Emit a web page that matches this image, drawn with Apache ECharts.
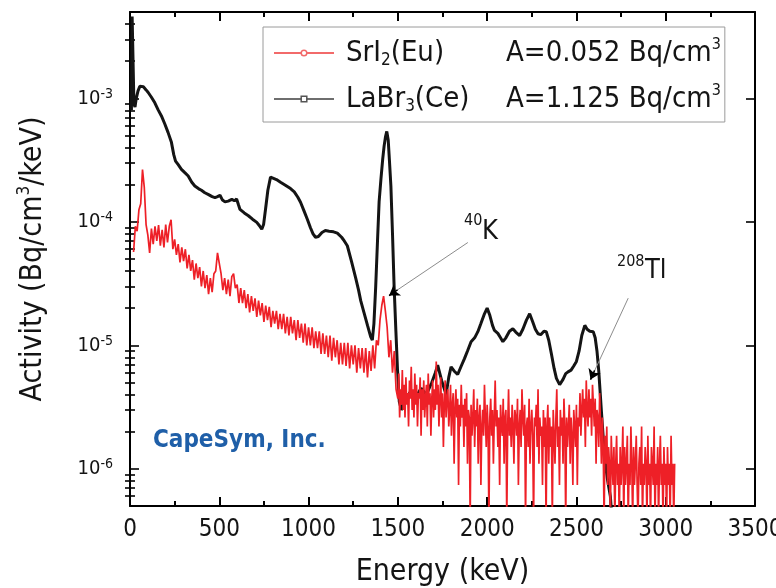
<!DOCTYPE html>
<html>
<head>
<meta charset="utf-8">
<script src="https://cdn.jsdelivr.net/npm/echarts@6/dist/echarts.min.js"></script>
<style>
html,body{margin:0;padding:0;background:#ffffff;}
#chart{width:776px;height:588px;}
</style>
</head>
<body>
<div id="chart"></div>
<script>
// ---------------- DATA ----------------
const energyRange = [0, 3500];
const energyStep = 500;
const decadeTicks = [1e-6, 1e-5, 1e-4, 1e-3];
const minorTicks = [6e-7, 7e-7, 8e-7, 9e-7,
  2e-6, 3e-6, 4e-6, 5e-6, 6e-6, 7e-6, 8e-6, 9e-6,
  2e-5, 3e-5, 4e-5, 5e-5, 6e-5, 7e-5, 8e-5, 9e-5,
  2e-4, 3e-4, 4e-4, 5e-4, 6e-4, 7e-4, 8e-4, 9e-4,
  2e-3, 3e-3, 4e-3];
const activityRange = [5e-7, 5e-3];

const legendNames = ['SrI2(Eu)', 'LaBr3(Ce)'];
const legendBase = ['SrI', 'LaBr'];
const legendSub = ['2', '3'];
const legendTail = ['(Eu)', '(Ce)'];
const legendActivity = ['A=0.052 Bq/cm', 'A=1.125 Bq/cm'];

// SrI2(Eu) spectrum below 1500 keV, energies (keV)
const srI2LowEnergy = [
  20,30,40,50,60,70,80,90,100,110,
  120,130,140,150,160,170,180,190,200,210,
  220,230,240,250,260,270,280,290,300,310,
  320,330,340,350,360,370,380,390,400,410,
  420,430,440,450,460,470,480,490,500,510,
  520,530,540,550,560,570,580,590,600,610,
  620,630,640,650,660,670,680,690,700,710,
  720,730,740,750,760,770,780,790,800,810,
  820,830,840,850,860,870,880,890,900,910,
  920,930,940,950,960,970,980,990,1000,1010,
  1020,1030,1040,1050,1060,1070,1080,1090,1100,1110,
  1120,1130,1140,1150,1160,1170,1180,1190,1200,1210,
  1220,1230,1240,1250,1260,1270,1280,1290,1300,1310,
  1320,1330,1340,1350,1360,1370,1380,1390,1400,1410,
  1420,1430,1440,1450,1460,1470,1480,1490
];
// activity in micro-Bq/cm3/keV (x1e-6)
const srI2LowActivity_u = [
  57,92,84,125,140,265,190,95,78,56,
  88,66,92,70,94,64,86,62,95,68,
  92,104,60,72,54,66,47,62,48,60,
  42,54,40,49,34,46,35,43,30,40,
  29,37,26,35,27,38,40,56,46,38,
  28,35,26,34,25,36,38,29,31,22,
  29,22,28,20,26,18.5,25,19,24,17,
  23,17.5,22,15.5,21,16,20.5,14,19,15,
  19,13.5,18,13.5,18,12.5,17,12,17,12.5,
  16,11,16,11.5,15,10.5,15,10,14,10,
  14,9.5,13,9.5,13,8.5,12.5,8.5,12,8,
  12,7.5,11.5,8,11,7,10.5,7,10.5,6.8,
  10.5,6.5,10,7,10,6,9.5,6.5,9.5,6,
  9.5,5.5,9,6.2,10,6.5,11,10,16,21,
  25,19,14,8,11,6,9,4.4
];

// SrI2(Eu) spectrum from 1500 keV, energies (keV)
const srI2HighEnergy = [
  1500,1505,1510,1515,1520,1525,1530,1535,1540,1545,
  1550,1555,1560,1565,1570,1575,1580,1585,1590,1595,
  1600,1605,1610,1615,1620,1625,1630,1635,1640,1645,
  1650,1655,1660,1665,1670,1675,1680,1685,1690,1695,
  1700,1705,1710,1715,1720,1725,1730,1735,1740,1745,
  1750,1755,1760,1765,1770,1775,1780,1785,1790,1795,
  1800,1805,1810,1815,1820,1825,1830,1835,1840,1845,
  1850,1855,1860,1865,1870,1875,1880,1885,1890,1895,
  1900,1905,1910,1915,1920,1925,1930,1935,1940,1945,
  1950,1955,1960,1965,1970,1975,1980,1985,1990,1995,
  2000,2005,2010,2015,2020,2025,2030,2035,2040,2045,
  2050,2055,2060,2065,2070,2075,2080,2085,2090,2095,
  2100,2105,2110,2115,2120,2125,2130,2135,2140,2145,
  2150,2155,2160,2165,2170,2175,2180,2185,2190,2195,
  2200,2205,2210,2215,2220,2225,2230,2235,2240,2245,
  2250,2255,2260,2265,2270,2275,2280,2285,2290,2295,
  2300,2305,2310,2315,2320,2325,2330,2335,2340,2345,
  2350,2355,2360,2365,2370,2375,2380,2385,2390,2395,
  2400,2405,2410,2415,2420,2425,2430,2435,2440,2445,
  2450,2455,2460,2465,2470,2475,2480,2485,2490,2495,
  2500,2505,2510,2515,2520,2525,2530,2535,2540,2545,
  2550,2555,2560,2565,2570,2575,2580,2585,2590,2595,
  2600,2605,2610,2615,2620,2625,2630,2635,2640,2645,
  2650,2655,2660,2665,2670,2675,2680,2685,2690,2695,
  2700,2705,2710,2715,2720,2725,2730,2735,2740,2745,
  2750,2755,2760,2765,2770,2775,2780,2785,2790,2795,
  2800,2805,2810,2815,2820,2825,2830,2835,2840,2845,
  2850,2855,2860,2865,2870,2875,2880,2885,2890,2895,
  2900,2905,2910,2915,2920,2925,2930,2935,2940,2945,
  2950,2955,2960,2965,2970,2975,2980,2985,2990,2995,
  3000,3005,3010,3015,3020,3025,3030,3035,3040,3045,
  3050
];
// activity in micro-Bq/cm3/keV (x1e-6)
const srI2HighActivity_u = [
  3.7,5.9,2.6,4.4,3.3,6.3,3.0,4.8,2.6,5.5,
  3.3,4.1,2.2,5.2,3.7,6.7,3.0,4.4,2.6,5.9,
  3.3,4.8,2.2,4.1,3.7,5.5,1.85,4.4,3.0,5.2,
  2.6,3.7,4.8,2.2,5.9,3.3,4.1,1.85,3.7,5.2,
  2.6,4.4,3.0,7.4,3.3,4.8,2.2,3.7,5.5,2.6,
  4.1,1.5,3.3,5.2,2.6,3.7,4.4,2.2,3.0,4.8,
  1.85,3.3,4.1,1.1,3.0,4.4,2.6,3.7,0.74,3.3,
  2.2,4.8,2.6,3.3,1.5,3.7,2.2,4.1,1.1,3.0,
  2.6,0.37,3.3,1.85,2.6,4.4,1.5,3.0,2.2,3.7,
  1.1,2.6,3.3,0.74,2.2,3.0,1.85,4.8,2.6,1.5,
  3.3,2.2,0.37,2.6,3.7,1.85,3.0,1.1,2.6,5.2,
  2.2,3.0,1.5,2.6,0.74,3.3,2.2,1.85,3.7,1.1,
  2.6,3.0,0.37,2.2,4.4,1.85,2.6,1.5,3.3,2.2,
  1.1,3.0,2.6,1.85,3.7,0.74,2.2,3.0,1.5,4.4,
  2.6,1.85,3.3,0.37,2.2,2.6,1.5,3.7,1.1,2.2,
  3.0,1.85,0.37,2.6,2.2,3.3,1.5,4.4,1.1,2.6,
  1.85,2.2,0.74,3.0,1.5,2.6,0.37,2.2,3.3,1.1,
  2.6,1.5,2.2,0.37,3.0,1.85,1.1,2.6,4.4,1.5,
  2.2,0.74,3.0,1.85,2.6,1.1,3.7,2.2,0.37,2.6,
  1.5,2.2,3.3,1.1,2.6,1.85,0.74,3.0,2.2,1.5,
  3.3,0.74,2.6,2.2,4.1,1.85,3.0,4.4,2.6,3.7,
  1.5,5.2,3.0,2.2,4.4,2.6,3.7,1.85,4.8,3.3,
  2.2,3.7,1.1,3.0,2.6,1.5,4.1,2.2,1.1,2.6,
  1.5,0.37,1.85,1.1,2.2,0.74,1.5,1.1,0.37,1.85,
  1.1,0.74,1.5,0.37,1.1,1.85,0.74,1.1,0.37,1.5,
  0.74,1.1,2.2,0.37,1.5,0.74,1.1,1.85,0.37,1.1,
  0.74,2.2,1.1,0.37,1.5,0.74,1.1,1.85,0.74,0.37,
  1.1,1.5,0.74,2.2,0.37,1.1,0.74,1.5,1.1,0.37,
  1.85,0.74,1.1,0.37,1.5,1.1,0.74,2.2,0.37,1.1,
  0.74,1.5,0.37,1.1,1.85,0.74,1.1,0.37,1.5,0.74,
  1.1,0.37,1.5,0.74,1.1,0.37,1.85,0.74,1.1,0.37,
  1.1
];

// LaBr3(Ce) spectrum
const laBr3Energy = [
  8,12,18,22,28,35,45,55,64,75,
  90,101,120,139,157,176,195,213,232,245,
  255,270,288,307,326,345,363,385,400,419,
  440,460,476,490,504,518,532,550,570,585,
  597,607,616,640,663,686,710,725,738,748,
  760,772,787,797,820,843,870,899,920,940,
  955,975,993,1010,1025,1039,1055,1075,1094,1115,
  1140,1161,1185,1200,1217,1240,1264,1280,1292,1310,
  1330,1348,1357,1366,1376,1386,1395,1405,1415,1423,
  1431,1438,1446,1453,1461,1470,1479,1489,1498,1508,
  1520,1540,1570,1600,1630,1660,1690,1710,1723,1745,
  1770,1785,1798,1815,1835,1855,1873,1890,1910,1930,
  1948,1965,1985,2000,2015,2030,2041,2060,2075,2088,
  2105,2125,2144,2160,2182,2200,2220,2238,2255,2270,
  2285,2300,2318,2331,2345,2360,2375,2388,2406,2425,
  2440,2453,2470,2485,2500,2515,2530,2547,2560,2575,
  2594,2605,2615,2625,2640,2650,2660,2675,2690,2705
];
const laBr3Activity = [
  8e-4,4.6e-3,4.6e-3,9e-4,8.5e-4,1.0e-3,1.15e-3,1.25e-3,1.28e-3,1.24e-3,
  1.17e-3,1.12e-3,1.02e-3,9.2e-4,8.1e-4,7.2e-4,6.2e-4,5.3e-4,4.4e-4,3.5e-4,
  3.1e-4,2.9e-4,2.66e-4,2.5e-4,2.35e-4,2.1e-4,1.95e-4,1.85e-4,1.8e-4,1.72e-4,
  1.66e-4,1.6e-4,1.57e-4,1.6e-4,1.64e-4,1.5e-4,1.45e-4,1.47e-4,1.52e-4,1.48e-4,
  1.53e-4,1.38e-4,1.26e-4,1.18e-4,1.12e-4,1.05e-4,9.9e-5,9.3e-5,8.7e-5,9.5e-5,
  1.3e-4,1.8e-4,2.3e-4,2.35e-4,2.2e-4,2.09e-4,1.98e-4,1.86e-4,1.75e-4,1.58e-4,
  1.44e-4,1.22e-4,1.05e-4,9.0e-5,8.0e-5,7.5e-5,7.6e-5,8.2e-5,8.5e-5,8.4e-5,
  8.3e-5,8.1e-5,7.5e-5,7.0e-5,6.4e-5,4.8e-5,3.5e-5,2.8e-5,2.3e-5,1.85e-5,
  1.45e-5,1.17e-5,1.1e-5,1.5e-5,3.0e-5,7e-5,1.45e-4,2.2e-4,3.2e-4,4.1e-4,
  4.9e-4,5.4e-4,4.6e-4,3.1e-4,1.95e-4,8e-5,3.0e-5,1.3e-5,6.4e-6,3.5e-6,
  3.0e-6,3.6e-6,4.2e-6,3.8e-6,4.5e-6,4.0e-6,5.0e-6,6.0e-6,6.9e-6,5.2e-6,
  4.0e-6,5.5e-6,6.7e-6,6.2e-6,5.8e-6,6.8e-6,7.8e-6,9.0e-6,1.07e-5,1.15e-5,
  1.29e-5,1.5e-5,1.8e-5,2.0e-5,1.75e-5,1.45e-5,1.32e-5,1.25e-5,1.15e-5,1.07e-5,
  1.15e-5,1.3e-5,1.36e-5,1.28e-5,1.2e-5,1.35e-5,1.6e-5,1.8e-5,1.55e-5,1.35e-5,
  1.24e-5,1.22e-5,1.3e-5,1.29e-5,1.1e-5,8.5e-6,6.5e-6,5.4e-6,4.8e-6,5.3e-6,
  5.9e-6,6.1e-6,6.3e-6,6.8e-6,7.4e-6,9.0e-6,1.2e-5,1.45e-5,1.35e-5,1.3e-5,
  1.29e-5,1.15e-5,9e-6,6.2e-6,2.9e-6,1.8e-6,1.15e-6,8e-7,6e-7,3e-7
];

// Annotation arrows (data coordinates: [keV, activity])
const k40ArrowFrom = [1892, 6.8e-5];
const k40ArrowHead = [1498, 2.81e-5];
const k40ArrowTip = [1451, 2.53e-5];
const tl208ArrowFrom = [2790, 2.41e-5];
const tl208ArrowHead = [2602, 6.27e-6];
const tl208ArrowTip = [2579, 5.28e-6];

// ---------------- FONTS ----------------
const cv = document.createElement('canvas').getContext('2d');
function hasFont(name) {
  const s = 'mmmmmwwwwwliIl0123456789ABCabc';
  cv.font = '40px monospace';
  const a = cv.measureText(s).width;
  cv.font = '40px "' + name + '", monospace';
  return cv.measureText(s).width !== a;
}
const COND = hasFont('DejaVu Sans Condensed');
const FONT = COND ? 'DejaVu Sans Condensed' : 'DejaVu Sans';
const K = COND ? 1 : 0.9;
const fs = v => Math.round(v * K * 10) / 10;
function tw(text, size, weight) {
  cv.font = (weight || 'normal') + ' ' + size + 'px "' + FONT + '"';
  return cv.measureText(text).width;
}

const TXT = '#141414';
const RED = '#ee2027';
const BLK = '#141414';

const LF = fs(29), LSUB = fs(17), LSUP = fs(16);
const NAME_COL = 160;
const pads = legendNames.map((n, i) =>
  Math.max(4, NAME_COL - tw(legendBase[i], LF) - tw(legendSub[i], LSUB) - tw(legendTail[i], LF)));

// ---------------- SERIES DATA ----------------
const srI2Data = srI2LowEnergy.map((e, i) => [e, srI2LowActivity_u[i] * 1e-6])
  .concat(srI2HighEnergy.map((e, i) => [e, srI2HighActivity_u[i] * 1e-6]));
const laBr3Data = laBr3Energy.map((e, i) => [e, laBr3Activity[i]]);

const chart = echarts.init(document.getElementById('chart'), null, { renderer: 'canvas' });

const frameLine = { show: true, onZero: false, lineStyle: { color: '#000', width: 2 } };
const noLine = { show: false };
const tickStyle = { color: '#000', width: 1.6 };
const stripTickStyle = { color: '#000', width: 2 };
const PLOT = { left: 130, right: 21, top: 12, bottom: 82 };

function yAxisDef(position, showLine, ticks, len, extra) {
  return Object.assign({
    type: 'log', logBase: 10, min: activityRange[0], max: activityRange[1],
    position: position, gridIndex: 0,
    axisLine: showLine ? frameLine : noLine,
    axisTick: { show: true, inside: true, length: len, customValues: ticks, lineStyle: tickStyle },
    axisLabel: { show: false },
    splitLine: { show: false }, minorSplitLine: { show: false }
  }, extra || {});
}
// thin strips along the top and bottom frame whose split lines act as energy ticks
function tickStripX(gridIndex, major) {
  return {
    type: 'value', gridIndex: gridIndex, min: energyRange[0], max: energyRange[1], interval: energyStep,
    axisLine: noLine, axisTick: { show: false }, axisLabel: { show: false },
    minorTick: { show: false, splitNumber: 2 },
    splitLine: { show: major, lineStyle: stripTickStyle },
    minorSplitLine: { show: !major, lineStyle: stripTickStyle }
  };
}
function tickStripY(gridIndex) {
  return { type: 'value', gridIndex: gridIndex, show: false, axisLine: noLine, axisTick: { show: false },
    axisLabel: { show: false }, splitLine: { show: false } };
}

const option = {
  animation: false,
  backgroundColor: '#ffffff',
  grid: [
    { left: PLOT.left, right: PLOT.right, top: PLOT.top, bottom: PLOT.bottom, containLabel: false, outerBoundsMode: 'none' },
    { left: PLOT.left, right: PLOT.right, bottom: PLOT.bottom, height: 9, containLabel: false, outerBoundsMode: 'none' },
    { left: PLOT.left, right: PLOT.right, bottom: PLOT.bottom, height: 5, containLabel: false, outerBoundsMode: 'none' },
    { left: PLOT.left, right: PLOT.right, top: PLOT.top, height: 9, containLabel: false, outerBoundsMode: 'none' },
    { left: PLOT.left, right: PLOT.right, top: PLOT.top, height: 5, containLabel: false, outerBoundsMode: 'none' }
  ],
  legend: {
    data: [
      { name: legendNames[0], lineStyle: { color: '#f26a6a', width: 2 }, itemStyle: { color: '#fff', borderColor: '#f26a6a', borderWidth: 1.5 } },
      { name: legendNames[1], lineStyle: { color: '#6e6e6e', width: 2 }, itemStyle: { color: '#fff', borderColor: '#555', borderWidth: 1.5 } }
    ],
    orient: 'vertical', left: 263, top: 27,
    itemWidth: 60, itemHeight: 7, itemGap: 14,
    padding: [10, 4, 7, 10],
    borderColor: '#9a9a9a', borderWidth: 1, borderRadius: 0,
    backgroundColor: '#ffffff',
    selectedMode: false,
    formatter: function (name) {
      const i = legendNames.indexOf(name);
      return '{lead| }{t|' + legendBase[i] + '}{sb|' + legendSub[i] + '}{t|' + legendTail[i] + '}{gap' + i + '| }{t|' + legendActivity[i] + '}{sp|3}';
    },
    textStyle: {
      rich: {
        lead: { width: 7, fontSize: LF, fontFamily: FONT, lineHeight: 32 },
        t: { fontSize: LF, fontFamily: FONT, color: TXT, lineHeight: 32, verticalAlign: 'middle' },
        sb: { fontSize: LSUB, fontFamily: FONT, color: TXT, lineHeight: 14, verticalAlign: 'bottom' },
        sp: { fontSize: LSUP, fontFamily: FONT, color: TXT, lineHeight: 9, verticalAlign: 'top' },
        gap0: { width: pads[0], fontSize: LF, fontFamily: FONT, lineHeight: 32 },
        gap1: { width: pads[1], fontSize: LF, fontFamily: FONT, lineHeight: 32 }
      }
    }
  },
  xAxis: [
    {
      type: 'value', gridIndex: 0, min: energyRange[0], max: energyRange[1], interval: energyStep,
      position: 'bottom',
      name: 'Energy (keV)', nameLocation: 'middle', nameGap: 51,
      nameTextStyle: { fontSize: fs(30), fontFamily: FONT, color: TXT },
      axisLine: frameLine,
      axisTick: { show: false },
      axisLabel: { show: true, fontSize: fs(24), fontFamily: FONT, color: TXT, margin: 12,
        formatter: function (v) { return String(v); } },
      splitLine: { show: false }, minorSplitLine: { show: false }
    },
    {
      type: 'value', gridIndex: 0, min: energyRange[0], max: energyRange[1], interval: energyStep,
      position: 'top', axisLine: frameLine, axisTick: { show: false }, axisLabel: { show: false },
      splitLine: { show: false }
    },
    tickStripX(1, true),
    tickStripX(2, false),
    tickStripX(3, true),
    tickStripX(4, false)
  ],
  yAxis: [
    yAxisDef('left', true, decadeTicks, 9, {
      name: '{t|Activity (Bq/cm}{u|3}{t|/keV)}',
      nameLocation: 'middle', nameGap: 80, nameRotate: 90,
      nameTextStyle: {
        rich: {
          t: { fontSize: fs(30), fontFamily: FONT, color: TXT, lineHeight: 34, verticalAlign: 'middle' },
          u: { fontSize: fs(17), fontFamily: FONT, color: TXT, lineHeight: 10, verticalAlign: 'top' }
        }
      },
      axisLabel: {
        show: true, customValues: decadeTicks, margin: 17,
        formatter: function (v) { return '{b|10}{s|' + Math.round(Math.log10(v)) + '}'; },
        rich: {
          b: { fontSize: fs(20), fontFamily: FONT, color: TXT, lineHeight: 22, verticalAlign: 'middle' },
          s: { fontSize: fs(14), fontFamily: FONT, color: TXT, lineHeight: 10, verticalAlign: 'top' }
        }
      }
    }),
    yAxisDef('left', false, minorTicks, 5),
    yAxisDef('right', true, decadeTicks, 9),
    yAxisDef('right', false, minorTicks, 5),
    tickStripY(1), tickStripY(2), tickStripY(3), tickStripY(4)
  ],
  series: [
    {
      name: legendNames[1], type: 'line', xAxisIndex: 0, yAxisIndex: 0,
      data: laBr3Data, showSymbol: false, symbol: 'rect', symbolSize: 4,
      lineStyle: { color: BLK, width: 3 }, itemStyle: { color: '#fff', borderColor: BLK },
      clip: true, silent: true, z: 2,
      markLine: {
        silent: true, animation: false, symbol: ['none', 'arrow'], symbolSize: 10,
        label: { show: false },
        data: [
          [{ coord: k40ArrowFrom, symbol: 'none', lineStyle: { color: '#8c8c8c', width: 1, type: 'solid' } }, { coord: k40ArrowTip, symbol: 'none' }],
          [{ coord: k40ArrowHead, symbol: 'none', lineStyle: { color: '#000', width: 1.5, type: 'solid' } }, { coord: k40ArrowTip, symbol: 'arrow' }],
          [{ coord: tl208ArrowFrom, symbol: 'none', lineStyle: { color: '#8c8c8c', width: 1, type: 'solid' } }, { coord: tl208ArrowTip, symbol: 'none' }],
          [{ coord: tl208ArrowHead, symbol: 'none', lineStyle: { color: '#000', width: 1.5, type: 'solid' } }, { coord: tl208ArrowTip, symbol: 'arrow' }]
        ]
      }
    },
    {
      name: legendNames[0], type: 'line', xAxisIndex: 0, yAxisIndex: 0,
      data: srI2Data, showSymbol: false, symbol: 'circle', symbolSize: 4,
      lineStyle: { color: RED, width: 1.7 }, itemStyle: { color: '#fff', borderColor: RED },
      clip: true, silent: true, z: 3
    }
  ],
  graphic: [
    { type: 'text', left: 153, top: 429, silent: true,
      style: { text: 'CapeSym, Inc.', fontSize: fs(24), fontWeight: 'bold', fontFamily: FONT, fill: '#1f5fa8' } },
    { type: 'text', left: 464, top: 213, silent: true,
      style: { text: '40', fontSize: fs(16), fontFamily: FONT, fill: TXT } },
    { type: 'text', left: 482, top: 218, silent: true,
      style: { text: 'K', fontSize: fs(27), fontFamily: FONT, fill: TXT } },
    { type: 'text', left: 617, top: 254, silent: true,
      style: { text: '208', fontSize: fs(16), fontFamily: FONT, fill: TXT } },
    { type: 'text', left: 645, top: 257, silent: true,
      style: { text: 'Tl', fontSize: fs(27), fontFamily: FONT, fill: TXT } }
  ]
};

chart.setOption(option);
</script>
</body>
</html>
